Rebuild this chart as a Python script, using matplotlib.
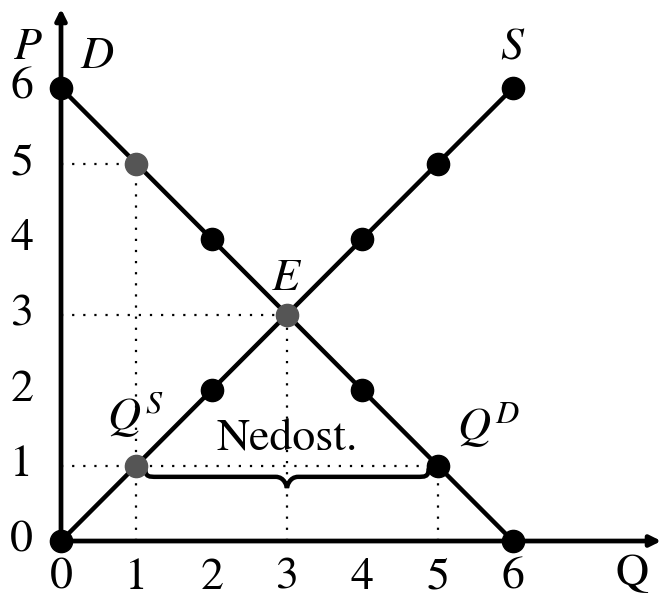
import numpy as np
import matplotlib
matplotlib.use("Agg")
import matplotlib.pyplot as plt
from matplotlib.path import Path
from matplotlib.patches import PathPatch

plt.rcParams['font.family'] = ['STIXGeneral', 'DejaVu Serif']
plt.rcParams['mathtext.fontset'] = 'stix'

# data
q_vals = [0, 1, 2, 3, 4, 5, 6]
supply_p = [0, 1, 2, 3, 4, 5, 6]
demand_p = [6, 5, 4, 3, 2, 1, 0]
gray_pts_q = [1, 3, 1]
gray_pts_p = [5, 3, 1]
black_demand_q = [0, 2, 4, 5, 6]
black_supply_q = [0, 2, 4, 5, 6]
x_ticks = [0, 1, 2, 3, 4, 5, 6]
y_ticks = [0, 1, 2, 3, 4, 5, 6]
guides = [(1, 5), (3, 3), (5, 1)]   # dotted guide corners
shortage_q = (1, 5)

fig = plt.figure(figsize=(6.62, 5.99), dpi=100)
ax = fig.add_axes([0, 0, 1, 1])
ax.set_xlim(-0.81, 7.98)
ax.set_ylim(-0.768, 7.166)
ax.axis('off')

# axes with arrows
arr = dict(arrowstyle='-|>', lw=3.4, color='black', mutation_scale=16,
           shrinkA=0, shrinkB=0)
ax.annotate('', xy=(7.97, 0), xytext=(0, 0), arrowprops=arr, zorder=3,
            annotation_clip=False)
ax.annotate('', xy=(0, 7.05), xytext=(0, 0), arrowprops=arr, zorder=3,
            annotation_clip=False)

# dotted guides
for gq, gp in guides:
    ax.plot([0, gq], [gp, gp], color='black', ls=(0, (1, 4)), lw=1.6, zorder=1)
    ax.plot([gq, gq], [0, gp], color='black', ls=(0, (1, 4)), lw=1.6, zorder=1)

# supply & demand
ax.plot(q_vals, supply_p, color='black', lw=3.2, zorder=2)
ax.plot(q_vals, demand_p, color='black', lw=3.2, zorder=2)

ax.plot(black_supply_q, [supply_p[q] for q in black_supply_q], 'o',
        color='black', ms=16, zorder=4)
ax.plot(black_demand_q, [demand_p[q] for q in black_demand_q], 'o',
        color='black', ms=16, zorder=4)
ax.plot(gray_pts_q, gray_pts_p, 'o', color='#555555', ms=16, zorder=5)

# tick labels
for t in x_ticks:
    ax.text(t, -0.49, str(t), ha='center', va='center', fontsize=33)
for t in y_ticks:
    ax.text(-0.52, t, str(t), ha='center', va='center', fontsize=33)

# brace under the shortage
x0, x1 = shortage_q[0] + 0.12, shortage_q[1] - 0.12
xm = (x0 + x1) / 2
ytop, ymid, ytip = 0.95, 0.85, 0.70
verts = [
    (x0, ytop), (x0, ymid), (x0 + 0.05, ymid), (x0 + 0.15, ymid),
    (xm - 0.15, ymid), (xm - 0.03, ymid), (xm, ytip + 0.02), (xm, ytip),
    (xm, ytip + 0.02), (xm + 0.03, ymid), (xm + 0.15, ymid),
    (x1 - 0.15, ymid), (x1 - 0.05, ymid), (x1, ymid), (x1, ytop),
]
codes = [Path.MOVETO, Path.CURVE4, Path.CURVE4, Path.CURVE4,
         Path.LINETO, Path.CURVE4, Path.CURVE4, Path.CURVE4,
         Path.CURVE4, Path.CURVE4, Path.CURVE4,
         Path.LINETO, Path.CURVE4, Path.CURVE4, Path.CURVE4]
ax.add_patch(PathPatch(Path(verts, codes), fill=False, lw=3.2,
                       color='black', capstyle='round', zorder=3))

# labels
fs = 33
ax.text(-0.44, 6.53, '$P$', ha='center', va='center', fontsize=fs)
ax.text(0.48, 6.4, '$D$', ha='center', va='center', fontsize=fs)
ax.text(6.0, 6.53, '$S$', ha='center', va='center', fontsize=fs)
ax.text(3.0, 3.46, '$E$', ha='center', va='center', fontsize=fs)
ax.text(0.98, 1.67, '$Q^S$', ha='center', va='center', fontsize=fs)
ax.text(5.67, 1.54, '$Q^D$', ha='center', va='center', fontsize=fs)
ax.text(3.0, 1.34, 'Nedost.', ha='center', va='center', fontsize=fs)
ax.text(7.58, -0.44, 'Q', ha='center', va='center', fontsize=fs)

fig.savefig('out.png', dpi=100)
